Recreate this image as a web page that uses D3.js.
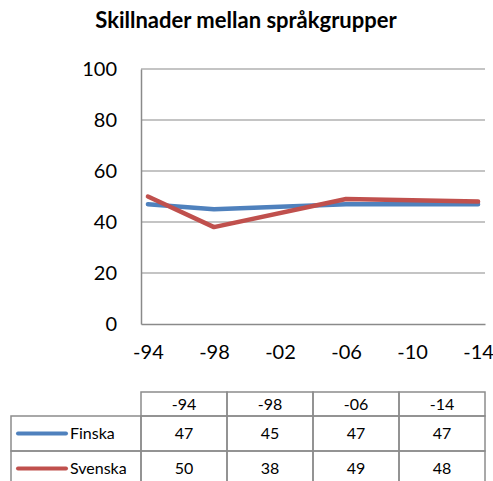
<!DOCTYPE html>
<html>
<head>
<meta charset="utf-8">
<script src="https://cdn.jsdelivr.net/npm/d3@7"></script>
<style>
  body { margin: 0; background: #fff; }
  svg { font-family: Lato, "Open Sans", sans-serif; }
</style>
</head>
<body>
<svg id="chart" width="493" height="481"></svg>
<script>
// data
const years = [1994, 1998, 2006, 2014];
const yearLabels = ["-94", "-98", "-06", "-14"];
const finska = [47, 45, 47, 47];
const svenska = [50, 38, 49, 48];
const xTicks = [1994, 1998, 2002, 2006, 2010, 2014];
const yTicks = [0, 20, 40, 60, 80, 100];

const series = [
  { name: "Finska", values: finska, color: "#4F81BD" },
  { name: "Svenska", values: svenska, color: "#C0504D" }
];

const svg = d3.select("#chart");
const plot = { left: 141, right: 485, top: 69, bottom: 324 };

// title
svg.append("text")
  .attr("x", 246)
  .attr("y", 28)
  .attr("text-anchor", "middle")
  .style("font-weight", "bold")
  .style("font-size", "22px")
  .text("Skillnader mellan språkgrupper");

const xScale = d3.scaleLinear()
  .domain([1993.58, 2014.42])
  .range([plot.left, plot.right]);
const yScale = d3.scaleLinear()
  .domain([0, 100])
  .range([plot.bottom, plot.top]);

// gridlines
svg.append("g")
  .selectAll("line")
  .data(yTicks.filter(d => d > 0))
  .enter()
  .append("line")
  .attr("x1", plot.left)
  .attr("x2", plot.right)
  .attr("y1", d => yScale(d))
  .attr("y2", d => yScale(d))
  .attr("stroke", "#8a8a8a")
  .attr("stroke-width", 1.2);

// y axis
const yAxis = svg.append("g")
  .attr("transform", `translate(${plot.left},0)`)
  .call(d3.axisLeft(yScale).tickValues(yTicks).tickSize(0).tickPadding(24));
yAxis.select(".domain").attr("stroke", "#8a8a8a").attr("stroke-width", 1.5);
yAxis.selectAll("text")
  .style("font-family", "Lato, sans-serif")
  .style("font-size", "20px")
  .attr("fill", "#000");

// x axis
const xAxis = svg.append("g")
  .attr("transform", `translate(0,${plot.bottom})`)
  .call(d3.axisBottom(xScale)
    .tickValues(xTicks)
    .tickSize(0)
    .tickPadding(21)
    .tickFormat(d => "-" + String(d).slice(2)));
xAxis.select(".domain").attr("stroke", "#8a8a8a").attr("stroke-width", 1.5);
xAxis.selectAll("text")
  .style("font-family", "Lato, sans-serif")
  .style("font-size", "20px")
  .attr("fill", "#000");

// lines
const line = d3.line()
  .x((d, i) => xScale(years[i]))
  .y(d => yScale(d));

svg.append("g")
  .selectAll("path")
  .data(series)
  .enter()
  .append("path")
  .attr("d", d => line(d.values))
  .attr("fill", "none")
  .attr("stroke", d => d.color)
  .attr("stroke-width", 4.5)
  .attr("stroke-linejoin", "round")
  .attr("stroke-linecap", "round");

// data table
const table = { left: 11, colLeft: 141, right: 485, top: 392, headBottom: 416, rowH: 35 };
const colScale = d3.scaleBand()
  .domain(yearLabels)
  .range([table.colLeft, table.right]);
const border = "#8c8c8c";

const tg = svg.append("g");

// header cells
tg.selectAll(".head")
  .data(yearLabels)
  .enter()
  .append("rect")
  .attr("class", "head")
  .attr("x", d => colScale(d))
  .attr("y", table.top)
  .attr("width", colScale.bandwidth())
  .attr("height", table.headBottom - table.top)
  .attr("fill", "none")
  .attr("stroke", border)
  .attr("stroke-width", 1.5);

tg.selectAll(".headText")
  .data(yearLabels)
  .enter()
  .append("text")
  .attr("x", d => colScale(d) + colScale.bandwidth() / 2)
  .attr("y", (table.top + table.headBottom) / 2)
  .attr("dy", "0.35em")
  .attr("text-anchor", "middle")
  .style("font-size", "16px")
  .text(d => d);

// body rows
series.forEach((s, r) => {
  const y0 = table.headBottom + r * table.rowH;
  const cy = y0 + table.rowH / 2;

  tg.append("rect")
    .attr("x", table.left)
    .attr("y", y0)
    .attr("width", table.colLeft - table.left)
    .attr("height", table.rowH)
    .attr("fill", "none")
    .attr("stroke", border)
    .attr("stroke-width", 1.5);

  tg.append("line")
    .attr("x1", 18)
    .attr("x2", 66)
    .attr("y1", cy)
    .attr("y2", cy)
    .attr("stroke", s.color)
    .attr("stroke-width", 4)
    .attr("stroke-linecap", "round");

  tg.append("text")
    .attr("x", 70)
    .attr("y", cy)
    .attr("dy", "0.35em")
    .style("font-size", "16px")
    .text(s.name);

  tg.selectAll(".cell" + r)
    .data(s.values)
    .enter()
    .append("rect")
    .attr("x", (d, i) => colScale(yearLabels[i]))
    .attr("y", y0)
    .attr("width", colScale.bandwidth())
    .attr("height", table.rowH)
    .attr("fill", "none")
    .attr("stroke", border)
    .attr("stroke-width", 1.5);

  tg.selectAll(".val" + r)
    .data(s.values)
    .enter()
    .append("text")
    .attr("x", (d, i) => colScale(yearLabels[i]) + colScale.bandwidth() / 2)
    .attr("y", cy)
    .attr("dy", "0.35em")
    .attr("text-anchor", "middle")
    .style("font-size", "16px")
    .text(d => d);
});
</script>
</body>
</html>
